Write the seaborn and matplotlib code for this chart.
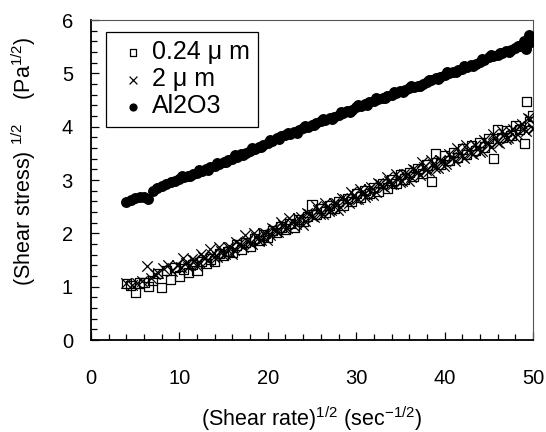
import matplotlib
matplotlib.use("Agg")
import matplotlib.pyplot as plt
import seaborn as sns
import pandas as pd

# ---------------- data ----------------
al_x = [4.0, 4.5, 5.0, 5.5, 6.0, 6.5, 7.0, 7.5, 8.0, 8.5, 9.0, 9.5, 10.0, 10.5, 11.0, 11.5,
        12.0, 12.5, 13.0, 13.5, 14.0, 14.5, 15.0, 15.5, 16.0, 16.5, 17.0, 17.5, 18.0, 18.5,
        19.0, 19.5, 20.0, 20.5, 21.0, 21.5, 22.0, 22.5, 23.0, 23.5, 24.0, 24.5, 25.0, 25.5,
        26.0, 26.5, 27.0, 27.5, 28.0, 28.5, 29.0, 29.5, 30.0, 30.5, 31.0, 31.5, 32.0, 32.5,
        33.0, 33.5, 34.0, 34.5, 35.0, 35.5, 36.0, 36.5, 37.0, 37.5, 38.0, 38.5, 39.0, 39.5,
        40.0, 40.5, 41.0, 41.5, 42.0, 42.5, 43.0, 43.5, 44.0, 44.5, 45.0, 45.5, 46.0, 46.5,
        47.0, 47.5, 48.0, 48.5, 49.0, 49.2, 49.5, 49.8, 50.0,
        10.25, 11.25, 12.25, 13.25, 14.25, 15.25, 16.25, 17.25, 18.25, 19.25, 20.25, 21.25,
        22.25, 23.25, 24.25, 25.25, 26.25, 27.25, 28.25, 29.25, 30.25, 31.25, 32.25, 33.25,
        34.25, 35.25, 36.25, 37.25, 38.25, 39.25, 40.25, 41.25, 42.25, 43.25, 44.25, 45.25,
        46.25, 47.25, 48.25, 49.25]
al_y = [2.59, 2.62, 2.67, 2.68, 2.68, 2.64, 2.80, 2.85, 2.88, 2.93, 2.96, 2.99, 3.02, 3.05, 3.08, 3.12,
        3.14, 3.17, 3.20, 3.24, 3.27, 3.30, 3.34, 3.37, 3.40, 3.44, 3.48, 3.51, 3.55, 3.58,
        3.62, 3.66, 3.70, 3.74, 3.78, 3.82, 3.84, 3.86, 3.90, 3.93, 3.97, 4.00, 4.04, 4.07,
        4.10, 4.13, 4.16, 4.19, 4.22, 4.26, 4.29, 4.32, 4.36, 4.39, 4.42, 4.46, 4.48, 4.51,
        4.54, 4.57, 4.60, 4.63, 4.66, 4.69, 4.72, 4.74, 4.77, 4.80, 4.83, 4.87, 4.91, 4.94,
        4.97, 5.00, 5.03, 5.06, 5.09, 5.12, 5.15, 5.18, 5.21, 5.25, 5.30, 5.33, 5.35, 5.38,
        5.41, 5.44, 5.47, 5.52, 5.60, 5.45, 5.72, 5.58, 5.65,
        3.07, 3.07, 3.19, 3.19, 3.32, 3.33, 3.46, 3.46, 3.60, 3.61, 3.75, 3.77,
        3.88, 3.89, 4.02, 4.03, 4.15, 4.15, 4.27, 4.28, 4.41, 4.41, 4.53, 4.53,
        4.65, 4.65, 4.76, 4.76, 4.88, 4.90, 5.02, 5.02, 5.14, 5.14, 5.26, 5.34,
        5.39, 5.40, 5.52, 5.52]

sq_x = [4.0, 4.5, 5.0, 5.5, 6.0, 6.5, 7.0, 7.5, 8.0, 8.5, 9.0, 9.5, 10.0, 10.5, 11.0, 11.5,
        12.0, 12.5, 13.0, 13.5, 14.0, 14.5, 15.0, 15.5, 16.0, 16.5, 17.0, 17.5, 18.0, 18.5,
        19.0, 19.5, 20.0, 20.5, 21.0, 21.5, 22.0, 22.5, 23.0, 23.5, 24.0, 24.5, 25.0, 25.5,
        26.0, 26.5, 27.0, 27.5, 28.0, 28.5, 29.0, 29.5, 30.0, 30.5, 31.0, 31.5, 32.0, 32.5,
        33.0, 33.5, 34.0, 34.5, 35.0, 35.5, 36.0, 36.5, 37.0, 37.5, 38.0, 38.5, 39.0, 39.5,
        40.0, 40.5, 41.0, 41.5, 42.0, 42.5, 43.0, 43.5, 44.0, 44.5, 45.0, 45.5, 46.0, 46.5,
        47.0, 47.5, 48.0, 48.5, 49.0, 49.3, 49.6, 50.0]
sq_y = [1.06, 1.02, 0.89, 1.07, 1.08, 1.01, 1.12, 1.25, 0.98, 1.30, 1.13, 1.36, 1.20, 1.33, 1.27, 1.42,
        1.31, 1.47, 1.44, 1.52, 1.48, 1.62, 1.58, 1.66, 1.64, 1.78, 1.70, 1.83, 1.76, 1.90,
        1.86, 1.97, 1.92, 2.06, 2.01, 2.12, 2.08, 2.18, 2.12, 2.26, 2.22, 2.31, 2.53, 2.36,
        2.46, 2.40, 2.52, 2.47, 2.60, 2.53, 2.66, 2.60, 2.74, 2.68, 2.80, 2.74, 2.86, 2.78,
        2.94, 2.85, 3.00, 2.93, 3.10, 3.02, 3.14, 3.06, 3.22, 3.12, 3.28, 2.97, 3.50, 3.30,
        3.46, 3.36, 3.52, 3.42, 3.58, 3.48, 3.64, 3.56, 3.70, 3.62, 3.78, 3.41, 3.94, 3.80,
        3.92, 3.84, 4.02, 3.95, 3.69, 4.47, 4.10, 4.20]

cr_x = [4.0, 4.6, 5.2, 5.8, 6.3, 6.8, 7.2, 7.6, 8.2, 8.7, 9.2, 9.7, 10.2, 10.7, 11.2, 11.7,
        12.2, 12.7, 13.2, 13.7, 14.2, 14.7, 15.2, 15.7, 16.2, 16.7, 17.2, 17.7, 18.2, 18.7,
        19.2, 19.7, 20.2, 20.7, 21.2, 21.7, 22.2, 22.7, 23.2, 23.7, 24.2, 24.7, 25.2, 25.7,
        26.2, 26.7, 27.2, 27.7, 28.2, 28.7, 29.2, 29.7, 30.2, 30.7, 31.2, 31.7, 32.2, 32.7,
        33.2, 33.7, 34.2, 34.7, 35.2, 35.7, 36.2, 36.7, 37.2, 37.7, 38.2, 38.7, 39.2, 39.7,
        40.2, 40.7, 41.2, 41.7, 42.2, 42.7, 43.2, 43.7, 44.2, 44.7, 45.2, 45.7, 46.2, 46.7,
        47.2, 47.7, 48.2, 48.7, 49.2, 49.7, 50.0,
        10.45, 10.95, 11.45, 11.95, 12.45, 12.95, 13.45, 13.95, 14.45, 14.95, 15.45, 15.95,
        16.45, 16.95, 17.45, 17.95, 18.45, 18.95, 19.45, 19.95, 20.45, 20.95, 21.45, 21.95,
        22.45, 22.95, 23.45, 23.95, 24.45, 24.95, 25.45, 25.95, 26.45, 26.95, 27.45, 27.95,
        28.45, 28.95, 29.45, 29.95, 30.45, 30.95, 31.45, 31.95, 32.45, 32.95, 33.45, 33.95,
        34.45, 34.95, 35.45, 35.95, 36.45, 36.95, 37.45, 37.95, 38.45, 38.95, 39.45, 39.95,
        40.45, 40.95, 41.45, 41.95, 42.45, 42.95, 43.45, 43.95, 44.45, 44.95, 45.45, 45.95,
        46.45, 46.95, 47.45, 47.95, 48.45, 48.95, 49.45, 49.95]
cr_y = [1.07, 1.04, 1.06, 1.10, 1.38, 1.16, 1.24, 1.25, 1.35, 1.41, 1.30, 1.40, 1.37, 1.45, 1.40, 1.50,
        1.46, 1.55, 1.50, 1.60, 1.56, 1.66, 1.62, 1.74, 1.68, 1.80, 1.74, 1.86, 1.80, 1.93,
        1.88, 2.00, 1.96, 2.08, 2.03, 2.15, 2.10, 2.24, 2.17, 2.30, 2.24, 2.36, 2.30, 2.43,
        2.37, 2.50, 2.44, 2.56, 2.50, 2.64, 2.57, 2.72, 2.65, 2.78, 2.72, 2.86, 2.78, 2.92,
        2.86, 2.98, 2.92, 3.06, 2.98, 3.12, 3.05, 3.18, 3.10, 3.25, 3.16, 3.30, 3.22, 3.36,
        3.30, 3.44, 3.36, 3.50, 3.42, 3.56, 3.48, 3.62, 3.55, 3.70, 3.62, 3.78, 3.70, 3.86,
        3.78, 3.95, 3.86, 4.05, 3.92, 4.15, 3.98,
        1.53, 1.37, 1.52, 1.39, 1.61, 1.54, 1.71, 1.56, 1.75, 1.60, 1.75, 1.62,
        1.84, 1.78, 1.96, 1.81, 2.00, 1.85, 2.01, 1.88, 2.10, 2.04, 2.22, 2.08,
        2.28, 2.13, 2.29, 2.16, 2.39, 2.33, 2.51, 2.37, 2.56, 2.41, 2.57, 2.44,
        2.67, 2.60, 2.78, 2.64, 2.83, 2.69, 2.84, 2.72, 2.94, 2.88, 3.06, 2.92,
        3.11, 2.97, 3.12, 2.99, 3.21, 3.15, 3.33, 3.18, 3.38, 3.23, 3.38, 3.26,
        3.48, 3.41, 3.60, 3.45, 3.65, 3.50, 3.65, 3.53, 3.75, 3.69, 3.87, 3.72,
        3.92, 3.77, 3.92, 3.80, 4.02, 3.95, 4.17, 3.95]

series_labels = ["0.24 \u03bc m", "2 \u03bc m", "Al2O3"]
x_ticks = [0, 10, 20, 30, 40, 50]
y_ticks = [0, 1, 2, 3, 4, 5, 6]

# ---------------- style ----------------
sns.set_theme(style="ticks")
plt.rcParams["font.family"] = ["Liberation Sans", "DejaVu Sans"]
plt.rcParams["mathtext.fontset"] = "custom"
plt.rcParams["mathtext.rm"] = "Liberation Sans"
plt.rcParams["mathtext.it"] = "Liberation Sans"
plt.rcParams["mathtext.bf"] = "Liberation Sans"

fig = plt.figure(figsize=(5.46, 4.32), dpi=100)
ax = fig.add_axes([91 / 546, 92 / 432, 442 / 546, 320 / 432])

df_sq = pd.DataFrame({"x": sq_x, "y": sq_y})
df_cr = pd.DataFrame({"x": cr_x, "y": cr_y})
df_al = pd.DataFrame({"x": al_x, "y": al_y})

sns.scatterplot(data=df_sq, x="x", y="y", marker="s", color="black", s=44,
                linewidth=0.9, ax=ax, zorder=3)
sq_coll = ax.collections[-1]
sq_coll.set_facecolor("none")
sq_coll.set_edgecolor("black")

sns.scatterplot(data=df_cr, x="x", y="y", marker="x", color="black", s=56,
                linewidth=0.9, ax=ax, zorder=4)
cr_coll = ax.collections[-1]

sns.scatterplot(data=df_al, x="x", y="y", marker="o", color="black", s=62,
                linewidth=0, ax=ax, zorder=5)
al_coll = ax.collections[-1]

ax.set_xlim(0, 50)
ax.set_ylim(0, 6)
ax.set_xticks(x_ticks)
ax.set_yticks(y_ticks)
ax.set_xticks([v for v in range(0, 51, 2)], minor=True)
ax.set_yticks([i / 5 for i in range(0, 31)], minor=True)

ax.tick_params(axis="both", which="both", direction="in", color="black", width=0.9)
ax.tick_params(axis="both", which="major", length=6, labelsize=14.5, labelcolor="black")
ax.tick_params(axis="both", which="minor", length=4)
ax.tick_params(axis="x", which="major", pad=21)
ax.tick_params(axis="y", which="major", pad=13)

for side in ["left", "bottom"]:
    ax.spines[side].set_color("black")
    ax.spines[side].set_linewidth(1.3)
for side in ["top", "right"]:
    ax.spines[side].set_visible(True)
    ax.spines[side].set_color("#555555")
    ax.spines[side].set_linewidth(0.8)

ax.set_xlabel(r"(Shear rate)$^{1/2}$ (sec$^{-1/2}$)", fontsize=15.5, color="black")
ax.set_ylabel(r"(Shear stress) $^{1/2}$    (Pa$^{1/2}$)", fontsize=15.5, color="black")
ax.xaxis.set_label_coords(0.5, -0.2)
ax.yaxis.set_label_coords(-0.12, 0.56)

leg = ax.legend([sq_coll, cr_coll, al_coll], series_labels, loc="upper left",
                bbox_to_anchor=(0.034, 0.9625), borderaxespad=0, frameon=True,
                fancybox=False, edgecolor="black", fontsize=18, markerscale=0.75,
                handlelength=1.5, handletextpad=0.0, labelspacing=0.12,
                borderpad=0.33, framealpha=1)
leg.get_frame().set_linewidth(0.9)
for t in leg.get_texts():
    t.set_color("black")

fig.savefig("out.png", dpi=100, facecolor="white")
